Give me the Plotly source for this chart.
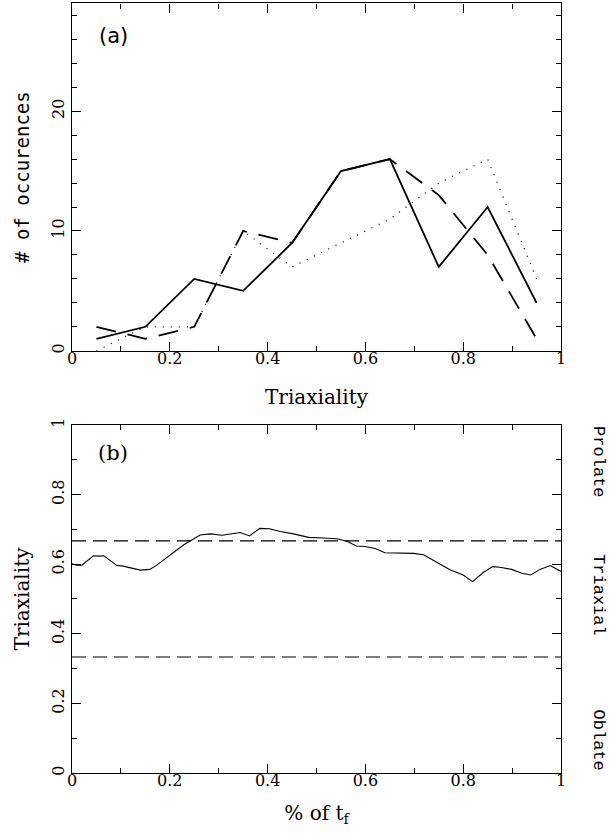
import plotly.graph_objects as go

# Panel (a): histogram-like lines
tri_bins = [0.05, 0.15, 0.25, 0.35, 0.45, 0.55, 0.65, 0.75, 0.85, 0.95]
occ_solid = [1, 2, 6, 5, 9, 15, 16, 7, 12, 4]
occ_dashed = [2, 1, 2, 10, 9, 15, 16, 13, 8, 1]
occ_dotted = [0, 2, 2, 10, 7, 9, 11, 14, 16, 6]

# Panel (b): triaxiality vs fraction of t_f
frac_tf = [0.0, 0.010, 0.020, 0.044, 0.055, 0.065, 0.092, 0.102, 0.140, 0.159, 0.174,
           0.201, 0.228, 0.262, 0.283, 0.307, 0.344, 0.363, 0.384, 0.404, 0.426,
           0.453, 0.484, 0.514, 0.542, 0.562, 0.582, 0.599, 0.620, 0.640, 0.678,
           0.698, 0.719, 0.746, 0.773, 0.800, 0.819, 0.841, 0.860, 0.875, 0.899,
           0.920, 0.938, 0.957, 0.978, 1.0]
triax_t = [0.601, 0.597, 0.597, 0.624, 0.623, 0.624, 0.596, 0.595, 0.583, 0.585, 0.598,
           0.626, 0.655, 0.684, 0.687, 0.683, 0.691, 0.681, 0.703, 0.702, 0.694,
           0.687, 0.677, 0.675, 0.673, 0.666, 0.652, 0.651, 0.645, 0.633, 0.631,
           0.631, 0.627, 0.606, 0.584, 0.569, 0.550, 0.576, 0.593, 0.591, 0.585,
           0.574, 0.569, 0.585, 0.596, 0.579]
bounds = [1/3, 2/3]
shape_labels = ["Prolate", "Triaxial", "Oblate"]
shape_label_y = [0.895, 0.51, 0.095]

xticks = [0, 0.2, 0.4, 0.6, 0.8, 1]
xticklabels = ["0", "0.2", "0.4", "0.6", "0.8", "1"]

SERIF = "DejaVu Serif"
fig = go.Figure()

fig.add_trace(go.Scatter(x=tri_bins, y=occ_dotted, mode="lines", xaxis="x", yaxis="y",
                         line=dict(color="black", width=1.3, dash="1px,7px"), showlegend=False))
fig.add_trace(go.Scatter(x=tri_bins, y=occ_dashed, mode="lines", xaxis="x", yaxis="y",
                         line=dict(color="black", width=1.8, dash="20px,12px"), showlegend=False))
fig.add_trace(go.Scatter(x=tri_bins, y=occ_solid, mode="lines", xaxis="x", yaxis="y",
                         line=dict(color="black", width=1.8), showlegend=False))

fig.add_trace(go.Scatter(x=frac_tf, y=triax_t, mode="lines", xaxis="x2", yaxis="y2",
                         line=dict(color="black", width=1.1), showlegend=False))
for b in bounds:
    fig.add_trace(go.Scatter(x=[0, 1], y=[b, b], mode="lines", xaxis="x2", yaxis="y2",
                             line=dict(color="black", width=1.2, dash="14px,7px"), showlegend=False))

common_x = dict(range=[0, 1], tickvals=xticks, ticktext=xticklabels, ticks="inside",
                ticklen=9, tickwidth=1, tickcolor="black", showline=True, linecolor="black",
                linewidth=1.3, mirror="ticks", showgrid=False, zeroline=False, automargin=False,
                ticklabelstandoff=-7,
                minor=dict(dtick=0.1, tick0=0, ticks="inside", ticklen=5, tickcolor="black"),
                tickfont=dict(family=SERIF, size=16, color="black"))

fig.update_layout(
    width=610, height=835,
    margin=dict(l=72, r=49, t=3, b=62),
    paper_bgcolor="white", plot_bgcolor="white",
    xaxis=dict(**common_x, domain=[0, 1], anchor="y",
               title=dict(text="Triaxiality", font=dict(family=SERIF, size=20, color="black"), standoff=22)),
    yaxis=dict(domain=[0.5484, 0.9994], anchor="x", range=[0, 29], tickvals=[0, 10, 20],
               ticks="inside", ticklen=9, tickcolor="black", tickangle=-90,
               showline=True, linecolor="black", linewidth=1.3, mirror="ticks",
               showgrid=False, zeroline=False, automargin=False,
               minor=dict(dtick=2, tick0=0, ticks="inside", ticklen=5, tickcolor="black"),
               tickfont=dict(family=SERIF, size=16, color="black"),
               title=dict(text="# of occurences", font=dict(family="DejaVu Sans Mono", size=19, color="black"), standoff=14)),
    xaxis2=dict(**common_x, domain=[0, 1], anchor="y2",
                title=dict(text="% of t<sub>f</sub>", font=dict(family=SERIF, size=20, color="black"), standoff=16)),
    yaxis2=dict(domain=[0, 0.452], anchor="x2", range=[0, 1],
                tickvals=[0, 0.2, 0.4, 0.6, 0.8, 1], ticktext=["0", "0.2", "0.4", "0.6", "0.8", "1"],
                ticks="inside", ticklen=9, tickcolor="black", tickangle=-90,
                showline=True, linecolor="black", linewidth=1.3, mirror="ticks",
                showgrid=False, zeroline=False, automargin=False,
                minor=dict(dtick=0.1, tick0=0, ticks="inside", ticklen=5, tickcolor="black"),
                tickfont=dict(family=SERIF, size=16, color="black"),
                title=dict(text="Triaxiality", font=dict(family=SERIF, size=20, color="black"), standoff=14)),
)

fig.add_annotation(x=0.084, y=26.3, xref="x", yref="y", text="(a)", showarrow=False,
                   font=dict(family="DejaVu Sans", size=21, color="black"))
fig.add_annotation(x=0.084, y=0.92, xref="x2", yref="y2", text="(b)", showarrow=False,
                   font=dict(family=SERIF, size=21, color="black"))
for lab, yy in zip(shape_labels, shape_label_y):
    fig.add_annotation(x=1.1, y=yy, xref="x2 domain", yref="y2", text=lab, showarrow=False,
                       textangle=90, font=dict(family="Liberation Mono", size=17, color="black"))

fig.write_html("out.html", post_script="document.body.style.margin='0px';",
               config={"displayModeBar": False})
